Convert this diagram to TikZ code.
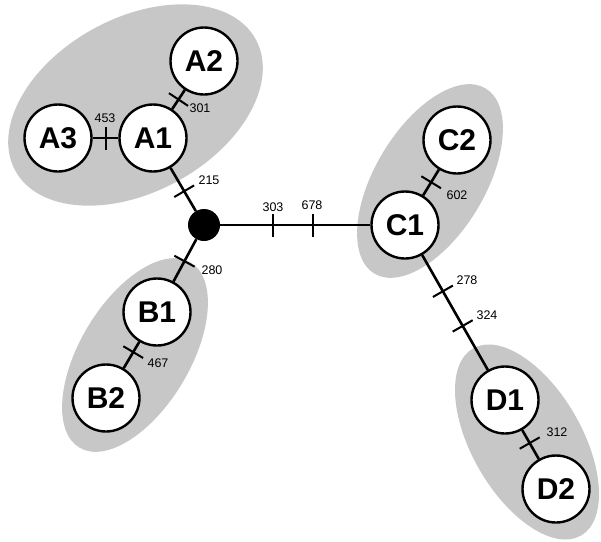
\documentclass[tikz,border=0pt]{standalone}
\usepackage{fontspec}
\setmainfont{Liberation Sans}
\usetikzlibrary{decorations.markings}
\tikzset{
  vtx/.style={circle, draw, line width=2.4pt, fill=white, minimum size=67pt, inner sep=0pt, font=\bfseries\fontsize{30}{30}\selectfont},
  hubnode/.style={circle, fill=black, minimum size=32pt, inner sep=0pt},
  conn/.style={line width=2.6pt},
  num/.style={font=\fontsize{12.5}{12.5}\selectfont, inner sep=0pt},
  grp/.style={fill=black!22},
  tickat/.style={postaction={decorate, decoration={markings, mark=at position #1 with {\draw[line width=2pt, line cap=butt] (0,-11.5pt) -- (0,11.5pt);}}}}
}
\begin{document}
\begin{tikzpicture}[x=1pt,y=-1pt]
\useasboundingbox (0,0) rectangle (601,541);
% shaded groups
\fill[grp, rotate around={28.6:(135.5,105)}] (135.5,105) ellipse [x radius=137pt, y radius=87pt];
\fill[grp, rotate around={59:(430,181)}] (430,181) ellipse [x radius=108pt, y radius=55pt];
\fill[grp, rotate around={59:(135,355)}] (135,355) ellipse [x radius=108pt, y radius=55pt];
\fill[grp, rotate around={-60:(527,442)}] (527,442) ellipse [x radius=108pt, y radius=55pt];
% nodes
\node[hubnode] (hub) at (204,225) {};
\node[vtx] (A1) at (153,138) {A1};
\node[vtx] (A2) at (204,61) {A2};
\node[vtx] (A3) at (58,138) {A3};
\node[vtx] (B1) at (157,312) {B1};
\node[vtx] (B2) at (106,398) {B2};
\node[vtx] (C1) at (405,225) {C1};
\node[vtx] (C2) at (457,140) {C2};
\node[vtx] (D1) at (505,400) {D1};
\node[vtx] (D2) at (556,489) {D2};
% connectors
\draw[conn, tickat=0.5] (A1) -- (A2);
\draw[conn, tickat=0.5] (A3) -- (A1);
\draw[conn, tickat=0.46] (hub) -- (A1);
\draw[conn, tickat=0.52] (hub) -- (B1);
\draw[conn, tickat=0.39] (B1) -- (B2);
\draw[conn, tickat=0.353, tickat=0.62] (hub) -- (C1);
\draw[conn, tickat=0.51] (C1) -- (C2);
\draw[conn, tickat=0.315, tickat=0.617] (C1) -- (D1);
\draw[conn, tickat=0.45] (D1) -- (D2);
% labels
\node[num] (l301) at (200,108) {301};
\node[num] (l453) at (105,118) {453};
\node[num] (l215) at (209,180) {215};
\node[num] (l303) at (273,207) {303};
\node[num] (l678) at (312,205) {678};
\node[num] (l602) at (457,195) {602};
\node[num] (l278) at (467,280) {278};
\node[num] (l324) at (487,315) {324};
\node[num] (l312) at (557,432) {312};
\node[num] (l280) at (212,270) {280};
\node[num] (l467) at (158,363) {467};
\end{tikzpicture}
\end{document}
